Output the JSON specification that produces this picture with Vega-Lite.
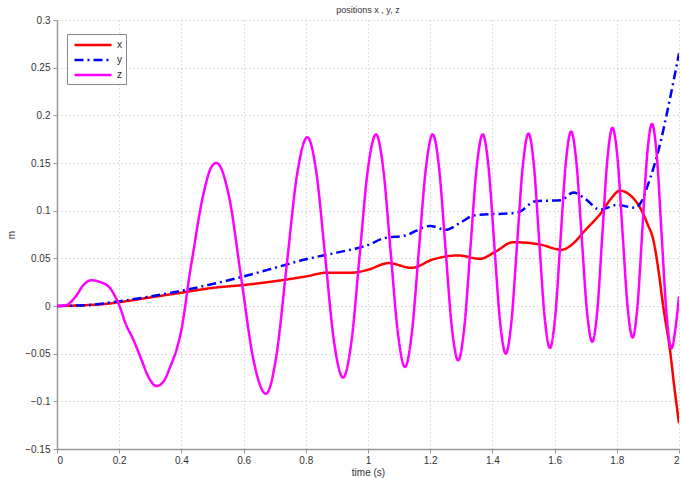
{
  "$schema": "https://vega.github.io/schema/vega-lite/v6.json",
  "width": 622,
  "height": 429,
  "autosize": {"type": "none"},
  "padding": {"left": 57, "top": 20, "right": 2, "bottom": 29},
  "background": "white",
  "config": {
    "font": "Liberation Sans",
    "view": {"stroke": null},
    "axis": {
      "labelFont": "Liberation Sans",
      "labelFontSize": 10,
      "labelColor": "#333333",
      "titleFont": "Liberation Sans",
      "titleFontSize": 10,
      "titleFontWeight": "normal",
      "titleColor": "#333333",
      "domainColor": "#999999",
      "domainWidth": 1.5,
      "tickColor": "#999999",
      "tickSize": 4,
      "gridColor": "#bbbbbb",
      "gridDash": [1, 3],
      "gridWidth": 1
    },
    "legend": {
      "orient": "none",
      "legendX": 10,
      "legendY": 14,
      "symbolType": "M-0.64,0H6.1",
      "symbolSize": 121,
      "symbolStrokeWidth": 2.5,
      "labelFontSize": 10,
      "labelFont": "Liberation Sans",
      "labelColor": "#222222",
      "rowPadding": 3,
      "padding": 4,
      "strokeColor": "#888888",
      "fillColor": "white",
      "labelOffset": 32
    }
  },
  "title": {
    "text": "positions x , y, z",
    "fontSize": 9,
    "fontWeight": "normal",
    "color": "#333333",
    "font": "Liberation Sans",
    "offset": 0
  },
  "data": {
    "values": [
      {"t": 0, "v": 0, "s": "x"},
      {"t": 0.1, "v": 0.001, "s": "x"},
      {"t": 0.15, "v": 0.002, "s": "x"},
      {"t": 0.2, "v": 0.004, "s": "x"},
      {"t": 0.3, "v": 0.009, "s": "x"},
      {"t": 0.4, "v": 0.014, "s": "x"},
      {"t": 0.5, "v": 0.019, "s": "x"},
      {"t": 0.6, "v": 0.022, "s": "x"},
      {"t": 0.7, "v": 0.026, "s": "x"},
      {"t": 0.8, "v": 0.031, "s": "x"},
      {"t": 0.87, "v": 0.035, "s": "x"},
      {"t": 0.95, "v": 0.035, "s": "x"},
      {"t": 1.0, "v": 0.038, "s": "x"},
      {"t": 1.066, "v": 0.045, "s": "x"},
      {"t": 1.14, "v": 0.040, "s": "x"},
      {"t": 1.21, "v": 0.049, "s": "x"},
      {"t": 1.29, "v": 0.053, "s": "x"},
      {"t": 1.36, "v": 0.0495, "s": "x"},
      {"t": 1.41, "v": 0.057, "s": "x"},
      {"t": 1.467, "v": 0.067, "s": "x"},
      {"t": 1.553, "v": 0.0645, "s": "x"},
      {"t": 1.623, "v": 0.059, "s": "x"},
      {"t": 1.65, "v": 0.063, "s": "x"},
      {"t": 1.7, "v": 0.08, "s": "x"},
      {"t": 1.75, "v": 0.098, "s": "x"},
      {"t": 1.78, "v": 0.112, "s": "x"},
      {"t": 1.81, "v": 0.121, "s": "x"},
      {"t": 1.84, "v": 0.117, "s": "x"},
      {"t": 1.875, "v": 0.103, "s": "x"},
      {"t": 1.9, "v": 0.085, "s": "x"},
      {"t": 1.917, "v": 0.07, "s": "x"},
      {"t": 1.935, "v": 0.035, "s": "x"},
      {"t": 1.949, "v": 0.0, "s": "x"},
      {"t": 1.971, "v": -0.046, "s": "x"},
      {"t": 1.985, "v": -0.085, "s": "x"},
      {"t": 2.0, "v": -0.123, "s": "x"},

      {"t": 0, "v": 0, "s": "y"},
      {"t": 0.1, "v": 0.001, "s": "y"},
      {"t": 0.2, "v": 0.005, "s": "y"},
      {"t": 0.3, "v": 0.01, "s": "y"},
      {"t": 0.4, "v": 0.016, "s": "y"},
      {"t": 0.5, "v": 0.023, "s": "y"},
      {"t": 0.6, "v": 0.031, "s": "y"},
      {"t": 0.7, "v": 0.04, "s": "y"},
      {"t": 0.8, "v": 0.049, "s": "y"},
      {"t": 0.9, "v": 0.056, "s": "y"},
      {"t": 1.0, "v": 0.064, "s": "y"},
      {"t": 1.05, "v": 0.071, "s": "y"},
      {"t": 1.12, "v": 0.074, "s": "y"},
      {"t": 1.2, "v": 0.084, "s": "y"},
      {"t": 1.25, "v": 0.080, "s": "y"},
      {"t": 1.3, "v": 0.088, "s": "y"},
      {"t": 1.34, "v": 0.095, "s": "y"},
      {"t": 1.48, "v": 0.098, "s": "y"},
      {"t": 1.54, "v": 0.11, "s": "y"},
      {"t": 1.62, "v": 0.111, "s": "y"},
      {"t": 1.66, "v": 0.119, "s": "y"},
      {"t": 1.7, "v": 0.112, "s": "y"},
      {"t": 1.746, "v": 0.101, "s": "y"},
      {"t": 1.8, "v": 0.106, "s": "y"},
      {"t": 1.86, "v": 0.103, "s": "y"},
      {"t": 1.88, "v": 0.11, "s": "y"},
      {"t": 1.9, "v": 0.127, "s": "y"},
      {"t": 1.94, "v": 0.171, "s": "y"},
      {"t": 1.97, "v": 0.216, "s": "y"},
      {"t": 2.0, "v": 0.265, "s": "y"},

      {"t": 0, "v": 0, "s": "z"},
      {"t": 0.03, "v": 0.001, "s": "z"},
      {"t": 0.06, "v": 0.01, "s": "z"},
      {"t": 0.085, "v": 0.022, "s": "z"},
      {"t": 0.11, "v": 0.027, "s": "z"},
      {"t": 0.14, "v": 0.025, "s": "z"},
      {"t": 0.17, "v": 0.019, "s": "z"},
      {"t": 0.19, "v": 0.008, "s": "z"},
      {"t": 0.2, "v": 0.001, "s": "z"},
      {"t": 0.22, "v": -0.018, "s": "z"},
      {"t": 0.245, "v": -0.035, "s": "z"},
      {"t": 0.27, "v": -0.055, "s": "z"},
      {"t": 0.295, "v": -0.075, "s": "z"},
      {"t": 0.32, "v": -0.084, "s": "z"},
      {"t": 0.345, "v": -0.078, "s": "z"},
      {"t": 0.365, "v": -0.063, "s": "z"},
      {"t": 0.385, "v": -0.045, "s": "z"},
      {"t": 0.4, "v": -0.025, "s": "z"},
      {"t": 0.41, "v": -0.005, "s": "z"},
      {"t": 0.425, "v": 0.03, "s": "z"},
      {"t": 0.44, "v": 0.06, "s": "z"},
      {"t": 0.46, "v": 0.1, "s": "z"},
      {"t": 0.48, "v": 0.13, "s": "z"},
      {"t": 0.495, "v": 0.145, "s": "z"},
      {"t": 0.513, "v": 0.150, "s": "z"},
      {"t": 0.553, "v": 0.115, "s": "z"},
      {"t": 0.5925, "v": 0.029, "s": "z"},
      {"t": 0.632, "v": -0.057, "s": "z"},
      {"t": 0.672, "v": -0.092, "s": "z"},
      {"t": 0.705, "v": -0.053, "s": "z"},
      {"t": 0.7385, "v": 0.0425, "s": "z"},
      {"t": 0.772, "v": 0.138, "s": "z"},
      {"t": 0.805, "v": 0.177, "s": "z"},
      {"t": 0.834, "v": 0.140, "s": "z"},
      {"t": 0.8625, "v": 0.051, "s": "z"},
      {"t": 0.891, "v": -0.038, "s": "z"},
      {"t": 0.92, "v": -0.075, "s": "z"},
      {"t": 0.9465, "v": -0.038, "s": "z"},
      {"t": 0.973, "v": 0.0525, "s": "z"},
      {"t": 0.9995, "v": 0.143, "s": "z"},
      {"t": 1.026, "v": 0.180, "s": "z"},
      {"t": 1.049, "v": 0.144, "s": "z"},
      {"t": 1.0725, "v": 0.058, "s": "z"},
      {"t": 1.096, "v": -0.028, "s": "z"},
      {"t": 1.119, "v": -0.064, "s": "z"},
      {"t": 1.141, "v": -0.028, "s": "z"},
      {"t": 1.1635, "v": 0.058, "s": "z"},
      {"t": 1.186, "v": 0.144, "s": "z"},
      {"t": 1.208, "v": 0.180, "s": "z"},
      {"t": 1.2285, "v": 0.145, "s": "z"},
      {"t": 1.249, "v": 0.0615, "s": "z"},
      {"t": 1.2695, "v": -0.022, "s": "z"},
      {"t": 1.29, "v": -0.057, "s": "z"},
      {"t": 1.3098, "v": -0.022, "s": "z"},
      {"t": 1.3295, "v": 0.0615, "s": "z"},
      {"t": 1.3493, "v": 0.145, "s": "z"},
      {"t": 1.369, "v": 0.180, "s": "z"},
      {"t": 1.3875, "v": 0.146, "s": "z"},
      {"t": 1.406, "v": 0.065, "s": "z"},
      {"t": 1.4245, "v": -0.016, "s": "z"},
      {"t": 1.443, "v": -0.050, "s": "z"},
      {"t": 1.4613, "v": -0.016, "s": "z"},
      {"t": 1.4795, "v": 0.0655, "s": "z"},
      {"t": 1.4978, "v": 0.147, "s": "z"},
      {"t": 1.516, "v": 0.181, "s": "z"},
      {"t": 1.5333, "v": 0.148, "s": "z"},
      {"t": 1.5505, "v": 0.0685, "s": "z"},
      {"t": 1.5678, "v": -0.011, "s": "z"},
      {"t": 1.585, "v": -0.044, "s": "z"},
      {"t": 1.602, "v": -0.011, "s": "z"},
      {"t": 1.619, "v": 0.0695, "s": "z"},
      {"t": 1.636, "v": 0.150, "s": "z"},
      {"t": 1.653, "v": 0.183, "s": "z"},
      {"t": 1.67, "v": 0.151, "s": "z"},
      {"t": 1.687, "v": 0.073, "s": "z"},
      {"t": 1.704, "v": -0.005, "s": "z"},
      {"t": 1.721, "v": -0.0375, "s": "z"},
      {"t": 1.7373, "v": -0.005, "s": "z"},
      {"t": 1.7535, "v": 0.075, "s": "z"},
      {"t": 1.7698, "v": 0.154, "s": "z"},
      {"t": 1.786, "v": 0.187, "s": "z"},
      {"t": 1.8023, "v": 0.155, "s": "z"},
      {"t": 1.8185, "v": 0.077, "s": "z"},
      {"t": 1.8348, "v": -0.001, "s": "z"},
      {"t": 1.851, "v": -0.033, "s": "z"},
      {"t": 1.8665, "v": 0.0, "s": "z"},
      {"t": 1.882, "v": 0.079, "s": "z"},
      {"t": 1.8975, "v": 0.158, "s": "z"},
      {"t": 1.913, "v": 0.191, "s": "z"},
      {"t": 1.9288, "v": 0.157, "s": "z"},
      {"t": 1.9445, "v": 0.073, "s": "z"},
      {"t": 1.9603, "v": -0.010, "s": "z"},
      {"t": 1.976, "v": -0.0445, "s": "z"},
      {"t": 1.988, "v": -0.025, "s": "z"},
      {"t": 2.0, "v": 0.01, "s": "z"}
    ]
  },
  "mark": {"type": "line", "interpolate": "monotone", "strokeWidth": 2.5, "clip": true},
  "encoding": {
    "x": {
      "field": "t",
      "type": "quantitative",
      "scale": {"domain": [0, 2], "nice": false, "zero": false},
      "axis": {
        "title": "time (s)",
        "values": [0, 0.2, 0.4, 0.6, 0.8, 1, 1.2, 1.4, 1.6, 1.8, 2],
        "format": "~g",
        "labelPadding": 2,
        "titlePadding": 2
      }
    },
    "y": {
      "field": "v",
      "type": "quantitative",
      "scale": {"domain": [-0.15, 0.3], "nice": false, "zero": false},
      "axis": {
        "title": "m",
        "values": [-0.15, -0.1, -0.05, 0, 0.05, 0.1, 0.15, 0.2, 0.25, 0.3],
        "format": "~g",
        "labelPadding": 3,
        "titlePadding": 8
      }
    },
    "color": {
      "field": "s",
      "type": "nominal",
      "title": null,
      "scale": {"domain": ["x", "y", "z"], "range": ["#ff0000", "#0000ff", "#ff00ff"]}
    },
    "strokeDash": {
      "field": "s",
      "type": "nominal",
      "title": null,
      "scale": {"domain": ["x", "y", "z"], "range": [[1, 0], [9, 4, 2, 4], [1, 0]]}
    }
  }
}
